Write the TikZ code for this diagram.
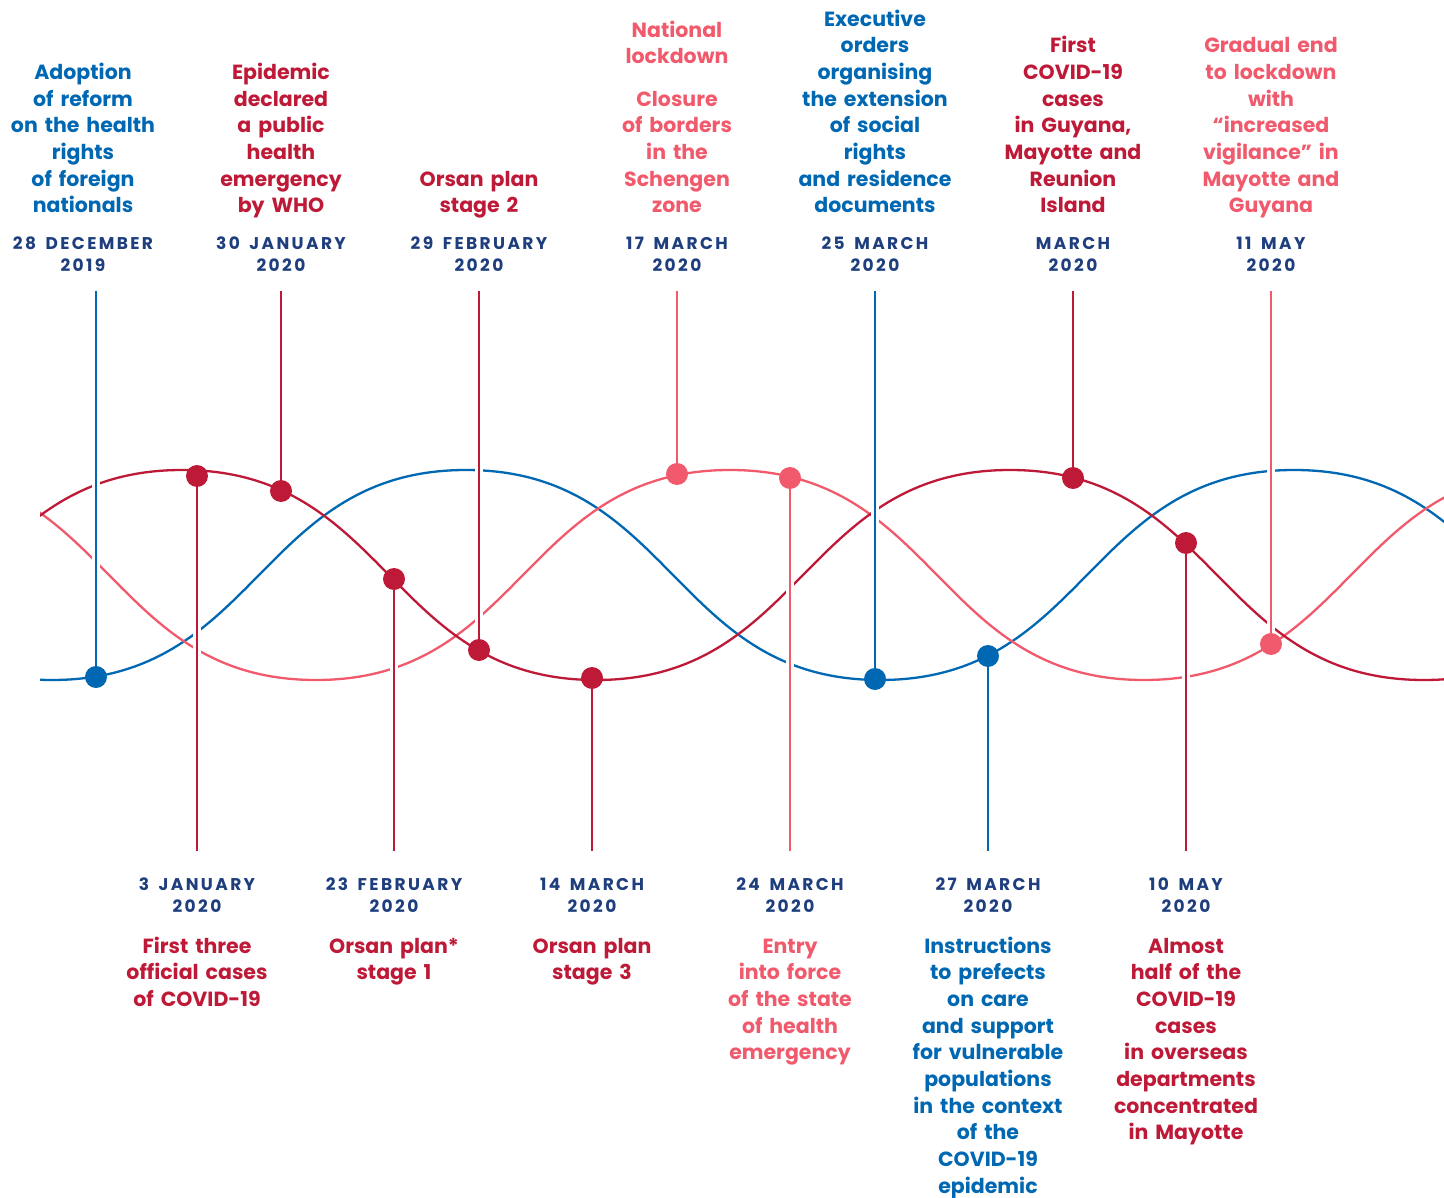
\documentclass[tikz,border=0pt]{standalone}
\usepackage{fontspec}
\setmainfont[WordSpace=1.6]{Poppins}
\newfontfamily\datefont[LetterSpace=14,WordSpace=1.6]{Poppins}
\definecolor{cblue}{RGB}{0,104,178}
\definecolor{cred}{RGB}{190,26,56}
\definecolor{cpink}{RGB}{240,90,108}
\definecolor{cnavy}{RGB}{30,62,125}
\newcommand\botlines[1]{\vbox{\halign{\hfil##\hfil\cr#1\crcr}}}
\newcommand\toplines[1]{\vtop{\halign{\hfil##\hfil\cr#1\crcr}}}
\tikzset{
  wave/.style={line width=2.3pt},
  vline/.style={line width=2.4pt, preaction={draw=white, line width=8pt}},
  dot/.style={circle, inner sep=0pt, minimum size=22pt},
  lbl/.style={inner sep=0pt, anchor=base, font=\fontsize{20.5}{26.7}\selectfont\bfseries},
  datelbl/.style={inner sep=0pt, anchor=base, text=cnavy, font=\datefont\fontsize{17}{22}\selectfont\bfseries},
}
\begin{document}
\begin{tikzpicture}[x=1pt,y=-1pt]
\useasboundingbox (0,0) rectangle (1444,1198);
% waves
\begin{scope}
\clip (40,0) rectangle (1444,1198);
\draw[wave, cblue] (-362,470) .. controls (-155,470) and (-155,680) .. (52,680)
  .. controls (259,680) and (259,470) .. (466,470)
  .. controls (673,470) and (673,680) .. (880,680)
  .. controls (1087,680) and (1087,470) .. (1294,470)
  .. controls (1501,470) and (1501,680) .. (1708,680);
\draw[wave, cpink] (-98,470) .. controls (109,470) and (109,680) .. (316,680)
  .. controls (523,680) and (523,470) .. (730,470)
  .. controls (937,470) and (937,680) .. (1144,680)
  .. controls (1351,680) and (1351,470) .. (1558,470);
\draw[wave, cred] (-232,680) .. controls (-25,680) and (-25,470) .. (182,470)
  .. controls (389,470) and (389,680) .. (596,680)
  .. controls (803,680) and (803,470) .. (1010,470)
  .. controls (1217,470) and (1217,680) .. (1424,680)
  .. controls (1631,680) and (1631,470) .. (1838,470);
\end{scope}
% dots (positions)
\path
  (96,677)   coordinate (p1)
  (197,476)  coordinate (p2)
  (281,491)  coordinate (p3)
  (394,579)  coordinate (p4)
  (479,650)  coordinate (p5)
  (592,678)  coordinate (p6)
  (677,474)  coordinate (p7)
  (790,478)  coordinate (p8)
  (875,679)  coordinate (p9)
  (988,656)  coordinate (p10)
  (1073,478) coordinate (p11)
  (1186,543) coordinate (p12)
  (1271,644) coordinate (p13);
% line ends
\coordinate (e1) at (96,291);
\coordinate (e2) at (197,851);
\coordinate (e3) at (281,291);
\coordinate (e4) at (394,851);
\coordinate (e5) at (479,291);
\coordinate (e6) at (592,851);
\coordinate (e7) at (677,291);
\coordinate (e8) at (790,851);
\coordinate (e9) at (875,291);
\coordinate (e10) at (988,851);
\coordinate (e11) at (1073,291);
\coordinate (e12) at (1186,851);
\coordinate (e13) at (1271,291);
% vertical connectors
\draw[vline, cblue] (e1) -- (p1);
\draw[vline, cred]  (p2) -- (e2);
\draw[vline, cred]  (e3) -- (p3);
\draw[vline, cred]  (p4) -- (e4);
\draw[vline, cred]  (e5) -- (p5);
\draw[vline, cred]  (p6) -- (e6);
\draw[vline, cpink] (e7) -- (p7);
\draw[vline, cpink] (p8) -- (e8);
\draw[vline, cblue] (e9) -- (p9);
\draw[vline, cblue] (p10) -- (e10);
\draw[vline, cred]  (e11) -- (p11);
\draw[vline, cred]  (p12) -- (e12);
\draw[vline, cpink] (e13) -- (p13);
% dots
\node[dot, fill=cblue] (d1) at (p1) {};
\node[dot, fill=cred]  (d2) at (p2) {};
\node[dot, fill=cred]  (d3) at (p3) {};
\node[dot, fill=cred]  (d4) at (p4) {};
\node[dot, fill=cred]  (d5) at (p5) {};
\node[dot, fill=cred]  (d6) at (p6) {};
\node[dot, fill=cpink] (d7) at (p7) {};
\node[dot, fill=cpink] (d8) at (p8) {};
\node[dot, fill=cblue] (d9) at (p9) {};
\node[dot, fill=cblue] (d10) at (p10) {};
\node[dot, fill=cred]  (d11) at (p11) {};
\node[dot, fill=cred]  (d12) at (p12) {};
\node[dot, fill=cpink] (d13) at (p13) {};
% upper labels
\node[lbl, text=cblue] (u1) at (83,213) {\botlines{Adoption\cr of reform\cr on the health\cr rights\cr of foreign\cr nationals}};
\node[datelbl] (ud1) at (83,250) {\toplines{28 DECEMBER\cr 2019}};
\node[lbl, text=cred] (u2) at (281,213) {\botlines{Epidemic\cr declared\cr a public\cr health\cr emergency\cr by WHO}};
\node[datelbl] (ud2) at (281,250) {\toplines{30 JANUARY\cr 2020}};
\node[lbl, text=cred] (u3) at (479,213) {\botlines{Orsan plan\cr stage 2}};
\node[datelbl] (ud3) at (479,250) {\toplines{29 FEBRUARY\cr 2020}};
\node[lbl, text=cpink] (u4a) at (677,64) {\botlines{National\cr lockdown}};
\node[lbl, text=cpink] (u4) at (677,213) {\botlines{Closure\cr of borders\cr in the\cr Schengen\cr zone}};
\node[datelbl] (ud4) at (677,250) {\toplines{17 MARCH\cr 2020}};
\node[lbl, text=cblue] (u5) at (875,213) {\botlines{Executive\cr orders\cr organising\cr the extension\cr of social\cr rights\cr and residence\cr documents}};
\node[datelbl] (ud5) at (875,250) {\toplines{25 MARCH\cr 2020}};
\node[lbl, text=cred] (u6) at (1073,213) {\botlines{First\cr COVID-19\cr cases\cr in Guyana,\cr Mayotte and\cr Reunion\cr Island}};
\node[datelbl] (ud6) at (1073,250) {\toplines{MARCH\cr 2020}};
\node[lbl, text=cpink] (u7) at (1271,213) {\botlines{Gradual end\cr to lockdown\cr with\cr “increased\cr vigilance” in\cr Mayotte and\cr Guyana}};
\node[datelbl] (ud7) at (1271,250) {\toplines{11 MAY\cr 2020}};
% lower labels
\node[datelbl] (ld1) at (197,890) {\toplines{3 JANUARY\cr 2020}};
\node[lbl, text=cred] (l1) at (197,953) {\toplines{First three\cr official cases\cr of COVID-19}};
\node[datelbl] (ld2) at (394,890) {\toplines{23 FEBRUARY\cr 2020}};
\node[lbl, text=cred] (l2) at (394,953) {\toplines{Orsan plan*\cr stage 1}};
\node[datelbl] (ld3) at (592,890) {\toplines{14 MARCH\cr 2020}};
\node[lbl, text=cred] (l3) at (592,953) {\toplines{Orsan plan\cr stage 3}};
\node[datelbl] (ld4) at (790,890) {\toplines{24 MARCH\cr 2020}};
\node[lbl, text=cpink] (l4) at (790,953) {\toplines{Entry\cr into force\cr of the state\cr of health\cr emergency}};
\node[datelbl] (ld5) at (988,890) {\toplines{27 MARCH\cr 2020}};
\node[lbl, text=cblue] (l5) at (988,953) {\toplines{Instructions\cr to prefects\cr on care\cr and support\cr for vulnerable\cr populations\cr in the context\cr of the\cr COVID-19\cr epidemic}};
\node[datelbl] (ld6) at (1186,890) {\toplines{10 MAY\cr 2020}};
\node[lbl, text=cred] (l6) at (1186,953) {\toplines{Almost\cr half of the\cr COVID-19\cr cases\cr in overseas\cr departments\cr concentrated\cr in Mayotte}};
\end{tikzpicture}
\end{document}
